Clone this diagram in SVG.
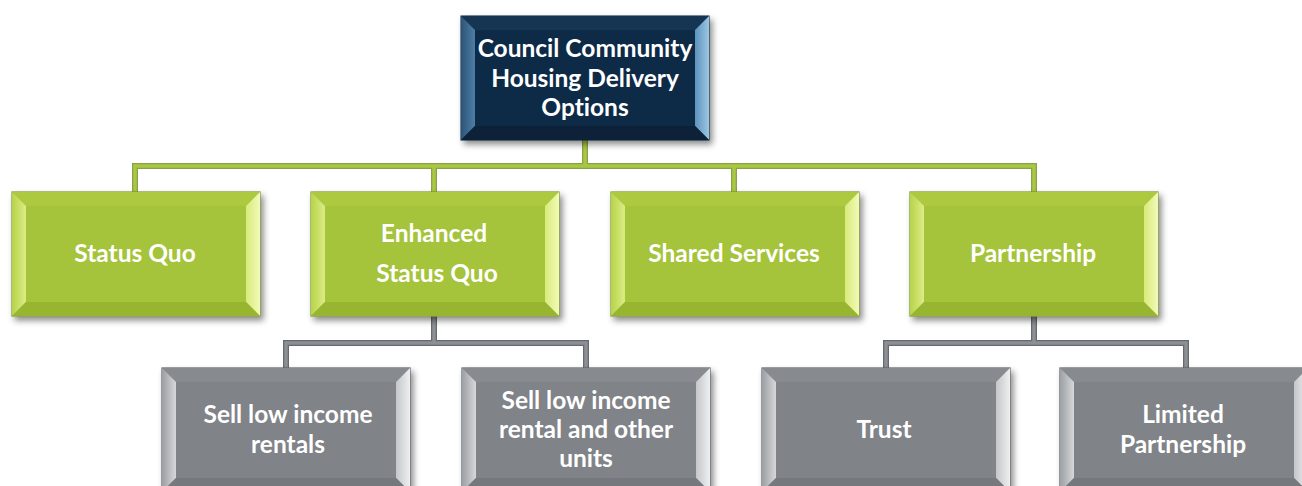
<svg xmlns="http://www.w3.org/2000/svg" xmlns:xlink="http://www.w3.org/1999/xlink" width="1302" height="486" viewBox="0 0 1302 486">
  <style>
    .label { font-family: Lato, "Open Sans", "Liberation Sans", sans-serif; font-weight: bold; font-size: 24.5px; fill: #ffffff; text-anchor: middle; dominant-baseline: central; font-variant-ligatures: none; }
    .wire-g-out { fill: none; stroke: #8aa04a; stroke-width: 6; stroke-linejoin: miter; }
    .wire-g-in { fill: none; stroke: #a9c842; stroke-width: 3.5; stroke-linejoin: miter; }
    .wire-k-out { fill: none; stroke: #66696d; stroke-width: 6; stroke-linejoin: miter; }
    .wire-k-in { fill: none; stroke: #8c8f93; stroke-width: 3.5; stroke-linejoin: miter; }
  </style>
  <defs>
    <filter id="shadow" x="-10%" y="-10%" width="130%" height="140%">
      <feDropShadow dx="3" dy="4" stdDeviation="3" flood-color="#000000" flood-opacity="0.45"/>
    </filter>

    <!-- bevel gradients: navy -->
    <linearGradient id="nL" x1="0" y1="0" x2="1" y2="0"><stop offset="0" stop-color="#2c5478"/><stop offset="1" stop-color="#4d7ea6"/></linearGradient>
    <linearGradient id="nR" x1="0" y1="0" x2="1" y2="0"><stop offset="0" stop-color="#5d93bd"/><stop offset="1" stop-color="#9cc6e3"/></linearGradient>
    <!-- bevel gradients: green -->
    <linearGradient id="gL" x1="0" y1="0" x2="1" y2="0"><stop offset="0" stop-color="#b7d34a"/><stop offset="1" stop-color="#dcec86"/></linearGradient>
    <linearGradient id="gR" x1="0" y1="0" x2="1" y2="0"><stop offset="0" stop-color="#d8ea7a"/><stop offset="1" stop-color="#f2fab8"/></linearGradient>
    <!-- bevel gradients: grey -->
    <linearGradient id="kL" x1="0" y1="0" x2="1" y2="0"><stop offset="0" stop-color="#9c9fa3"/><stop offset="1" stop-color="#d6d8da"/></linearGradient>
    <linearGradient id="kR" x1="0" y1="0" x2="1" y2="0"><stop offset="0" stop-color="#c4c6c9"/><stop offset="1" stop-color="#eeeff0"/></linearGradient>

    <!-- bevelled box, 248 x 124 -->
    <g id="boxNavy">
      <rect x="0" y="0" width="248" height="124" fill="#0e2a45" stroke="#0a1e31" stroke-width="1"/>
      <polygon points="0,0 248,0 234,14 14,14" fill="#143553"/>
      <polygon points="0,0 14,14 14,110 0,124" fill="url(#nL)"/>
      <polygon points="248,0 248,124 234,110 234,14" fill="url(#nR)"/>
      <polygon points="0,124 14,110 234,110 248,124" fill="#0b2239"/>
      <rect x="14" y="14" width="220" height="96" fill="#0f2b47"/>
    </g>
    <g id="boxGreen">
      <rect x="0" y="0" width="248" height="124" fill="#a4c23a" stroke="#7e9432" stroke-width="1.2"/>
      <polygon points="0,0 248,0 234,14 14,14" fill="#acc940"/>
      <polygon points="0,0 14,14 14,110 0,124" fill="url(#gL)"/>
      <polygon points="248,0 248,124 234,110 234,14" fill="url(#gR)"/>
      <polygon points="0,124 14,110 234,110 248,124" fill="#98b533"/>
      <rect x="14" y="14" width="220" height="96" fill="#a5c33b"/>
    </g>
    <g id="boxGrey">
      <rect x="0" y="0" width="248" height="124" fill="#7f8287" stroke="#606368" stroke-width="1.2"/>
      <polygon points="0,0 248,0 234,14 14,14" fill="#878a8e"/>
      <polygon points="0,0 14,14 14,110 0,124" fill="url(#kL)"/>
      <polygon points="248,0 248,124 234,110 234,14" fill="url(#kR)"/>
      <polygon points="0,124 14,110 234,110 248,124" fill="#75787c"/>
      <rect x="14" y="14" width="220" height="96" fill="#808388"/>
    </g>
  </defs>

  <rect x="0" y="0" width="1302" height="486" fill="#ffffff"/>

  <!-- connectors -->
  <g id="connectors">
    <path class="wire-g-out" d="M585,140 V166 M135,192 V166 H1034 V192 M434,166 V192 M734,166 V192"/>
    <path class="wire-g-in" d="M585,140 V166 M135,192 V166 H1034 V192 M434,166 V192 M734,166 V192"/>
    <path class="wire-k-out" d="M434,316 V343 M286,368 V343 H586 V368 M1034,316 V343 M886,368 V343 H1186 V368"/>
    <path class="wire-k-in" d="M434,316 V343 M286,368 V343 H586 V368 M1034,316 V343 M886,368 V343 H1186 V368"/>
  </g>

  <!-- root -->
  <g id="node-root">
    <use xlink:href="#boxNavy" x="461" y="16" filter="url(#shadow)"/>
    <text class="label" x="585" y="47">Council Community</text>
    <text class="label" x="585" y="77">Housing Delivery</text>
    <text class="label" x="585" y="106">Options</text>
  </g>

  <!-- level 1 -->
  <g id="node-status-quo">
    <use xlink:href="#boxGreen" x="12" y="192" filter="url(#shadow)"/>
    <text class="label" x="135" y="252">Status Quo</text>
  </g>
  <g id="node-enhanced">
    <use xlink:href="#boxGreen" x="311" y="192" filter="url(#shadow)"/>
    <text class="label" x="434" y="232">Enhanced</text>
    <text class="label" x="437" y="272">Status Quo</text>
  </g>
  <g id="node-shared">
    <use xlink:href="#boxGreen" x="611" y="192" filter="url(#shadow)"/>
    <text class="label" x="734" y="252">Shared Services</text>
  </g>
  <g id="node-partnership">
    <use xlink:href="#boxGreen" x="910" y="192" filter="url(#shadow)"/>
    <text class="label" x="1033" y="252">Partnership</text>
  </g>

  <!-- level 2 -->
  <g id="node-sell-rentals">
    <use xlink:href="#boxGrey" x="162" y="368" filter="url(#shadow)"/>
    <text class="label" x="288" y="413">Sell low income</text>
    <text class="label" x="288" y="443">rentals</text>
  </g>
  <g id="node-sell-other">
    <use xlink:href="#boxGrey" x="462" y="368" filter="url(#shadow)"/>
    <text class="label" x="586" y="399">Sell low income</text>
    <text class="label" x="586" y="428">rental and other</text>
    <text class="label" x="586" y="457">units</text>
  </g>
  <g id="node-trust">
    <use xlink:href="#boxGrey" x="762" y="368" filter="url(#shadow)"/>
    <text class="label" x="884" y="428">Trust</text>
  </g>
  <g id="node-limited">
    <use xlink:href="#boxGrey" x="1060" y="368" filter="url(#shadow)"/>
    <text class="label" x="1183" y="413">Limited</text>
    <text class="label" x="1183" y="443">Partnership</text>
  </g>
</svg>
